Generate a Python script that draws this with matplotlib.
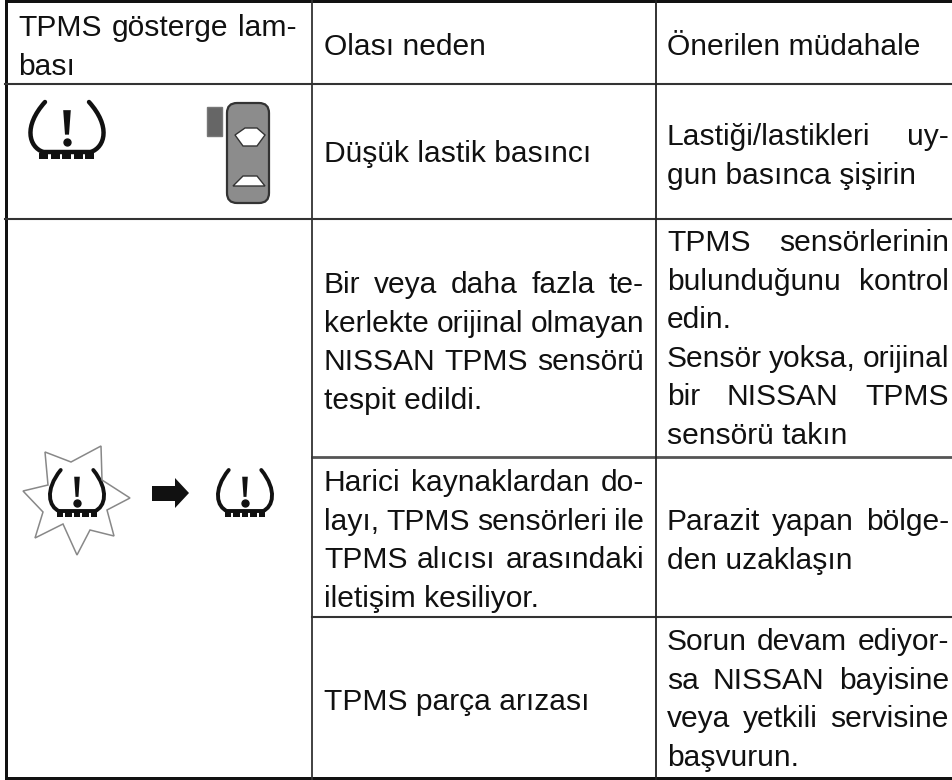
import matplotlib
matplotlib.use('Agg')
import matplotlib.pyplot as plt
from matplotlib.patches import Polygon, FancyBboxPatch, Rectangle, PathPatch
from matplotlib.path import Path

plt.rcParams['font.family'] = ['Liberation Sans', 'DejaVu Sans']

# cell text, one list per cell
header = ["Olası neden", "Önerilen müdahale"]
col1_head = ["TPMS gösterge lam-", "bası"]
col2 = [["Düşük lastik basıncı"],
        ["Bir veya daha fazla te-", "kerlekte orijinal olmayan", "NISSAN TPMS sensörü", "tespit edildi."],
        ["Harici kaynaklardan do-", "layı, TPMS sensörleri ile", "TPMS alıcısı arasındaki", "iletişim kesiliyor."],
        ["TPMS parça arızası"]]
col3 = [["Lastiği/lastikleri uy-", "gun basınca şişirin"],
        ["TPMS sensörlerinin", "bulunduğunu kontrol", "edin.", "Sensör yoksa, orijinal", "bir NISSAN TPMS", "sensörü takın"],
        ["Parazit yapan bölge-", "den uzaklaşın"],
        ["Sorun devam ediyor-", "sa NISSAN bayisine", "veya yetkili servisine", "başvurun."]]
no_justify = {"bası", "edin.", "sensörü takın", "gun basınca şişirin", "den uzaklaşın", "başvurun.",
              "tespit edildi.", "iletişim kesiliyor.", "Düşük lastik basıncı", "TPMS parça arızası"}

col2_first = [162, 293, 491, 710]
col3_first = [145, 251, 530, 650]
pitch = 38.6
fs = 21.6
ink = '#111111'

fig = plt.figure(figsize=(9.53, 7.8), dpi=100)
ax = fig.add_axes([0, 0, 1, 1])
ax.set_xlim(0, 953)
ax.set_ylim(780, 0)
ax.axis('off')
rend = fig.canvas.get_renderer()


def put(line, x, y, right=None):
    if right is None:
        ax.text(x, y, line, fontsize=fs, va='baseline', ha='left', color=ink)
        return
    words = line.split(' ')
    ts = [ax.text(x, y, w, fontsize=fs, va='baseline', ha='left', color=ink) for w in words]
    widths = [t.get_window_extent(rend).width for t in ts]
    gap = (right - x - sum(widths)) / max(len(words) - 1, 1)
    cx = x
    for t, w in zip(ts, widths):
        t.set_x(cx)
        cx += w + gap


def put_cell(lines, x, first, right):
    for i, line in enumerate(lines):
        r = None if line in no_justify else right
        put(line, x, first + i * pitch, r)


def tire(cx, top, sx, sy, lw=3.2):
    # tyre pressure lamp, unit shape scaled to the cell
    for s in (-1, 1):
        verts = [(cx + s * sx * 22, top), (cx + s * sx * 44, top + sy * 24), (cx + s * sx * 38, top + sy * 44),
                 (cx + s * sx * 24, top + sy * 49)]
        ax.add_patch(PathPatch(Path(verts, [Path.MOVETO, Path.CURVE4, Path.CURVE4, Path.CURVE4]),
                               facecolor='none', edgecolor=ink, lw=lw, capstyle='round'))
    ax.plot([cx - 24 * sx, cx + 24 * sx], [top + 49 * sy] * 2, color=ink, lw=lw)
    for k in range(-2, 3):
        ax.add_patch(Rectangle((cx + (k * 11.5 - 4.5) * sx, top + 50 * sy), 9 * sx, 6 * sy, color=ink, lw=0))
    ax.add_patch(Polygon([(cx - 3.8 * sx, top + 8 * sy), (cx + 3.8 * sx, top + 8 * sy),
                          (cx + 2 * sx, top + 32 * sy), (cx - 2 * sx, top + 32 * sy)], color=ink, lw=0))
    ax.plot([cx], [top + 39 * sy], 'o', color=ink, ms=5)


# table rules
ax.add_patch(Rectangle((5, 0), 948, 3, color=ink, lw=0))
ax.add_patch(Rectangle((5, 0), 3.5, 780, color=ink, lw=0))
ax.add_patch(Rectangle((5, 776.5), 948, 3.5, color=ink, lw=0))
ax.plot([5, 953], [84, 84], color='#333333', lw=1.5)
ax.plot([5, 953], [219, 219], color='#333333', lw=1.5)
ax.plot([312, 953], [457, 457], color='#555555', lw=2)
ax.plot([312, 953], [617, 617], color='#333333', lw=1.5)
ax.plot([312, 312], [0, 780], color='#333333', lw=1.3)
ax.plot([656, 656], [0, 780], color='#222222', lw=1.3)

# text
put_cell(col1_head, 18, 36, 297)
put(header[0], 324, 55)
put(header[1], 667, 55)
for lines, first in zip(col2, col2_first):
    put_cell(lines, 324, first, 644)
for lines, first in zip(col3, col3_first):
    put_cell(lines, 667, first, 949)

# icons
tire(67, 102, 1.0, 1.02)
tire(77, 470, 0.74, 0.84, lw=2.8)
tire(245, 470, 0.74, 0.84, lw=2.8)

ax.add_patch(Rectangle((207, 107), 15, 29, facecolor='#666666', edgecolor='#777777', lw=1))
ax.add_patch(FancyBboxPatch((233, 109), 30, 88, boxstyle='round,pad=6,rounding_size=10',
                            facecolor='#8c8c8c', edgecolor='#333333', lw=1.6))
ax.add_patch(Polygon([(235, 135), (245, 128), (257, 128), (265, 135), (257, 146), (243, 146)],
                     facecolor='white', edgecolor='#333333', lw=1))
ax.add_patch(Polygon([(233, 186), (243, 176), (257, 176), (265, 186)],
                     facecolor='white', edgecolor='#333333', lw=1))

star = [(45, 452), (71, 462), (101, 446), (102, 480), (130, 498), (107, 510), (114, 536), (90, 530),
        (77, 555), (63, 524), (35, 538), (43, 512), (23, 491), (48, 485)]
ax.add_patch(Polygon(star, closed=True, facecolor='none', edgecolor='#888888', lw=1.1))
ax.add_patch(Polygon([(152, 486), (175, 486), (175, 478), (189, 493), (175, 508), (175, 501), (152, 501)],
                     color=ink, lw=0))

fig.savefig('out.png', dpi=100)
